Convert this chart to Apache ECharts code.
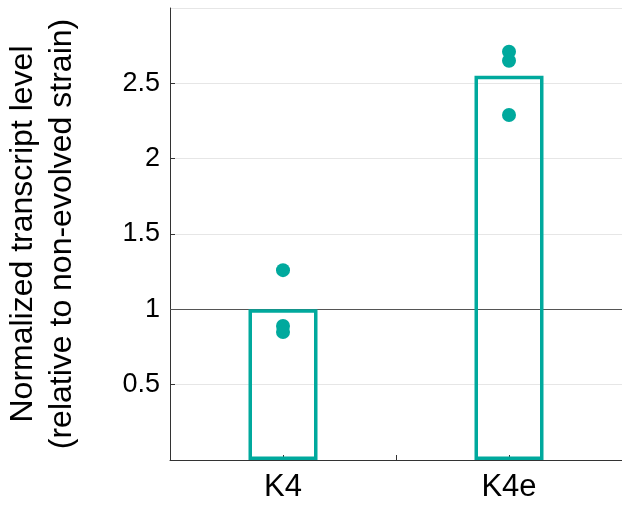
<!DOCTYPE html>
<html>
<head>
<meta charset="utf-8">
<script src="https://cdn.jsdelivr.net/npm/echarts@6/dist/echarts.min.js"></script>
<style>
html,body{margin:0;padding:0;background:#fff;}
#chart{width:622px;height:508px;}
</style>
</head>
<body>
<div id="chart"></div>
<script>
// Data
const categories = ['K4', 'K4e'];
const categoryPositions = [1, 3];
const barMeans = [1.0, 2.55];
const k4Replicates = [1.26, 0.89, 0.85];
const k4eReplicates = [2.71, 2.65, 2.29];
const yTicks = [0, 0.5, 1, 1.5, 2, 2.5, 3];
const yTitle = 'Normalized transcript level\n(relative to non-evolved strain)';

const teal = '#00A99D';
const font = '"Liberation Sans", Arial, sans-serif';

const barData = categoryPositions.map((x, i) => [x, barMeans[i]]);
const pointData = []
  .concat(k4Replicates.map(v => [categoryPositions[0], v]))
  .concat(k4eReplicates.map(v => [categoryPositions[1], v]));

const chart = echarts.init(document.getElementById('chart'), null, {renderer: 'canvas'});
chart.setOption({
  animation: false,
  backgroundColor: '#fff',
  grid: {left: 170, right: 0, top: 8, bottom: 48, containLabel: false, outerBoundsMode: 'none'},
  xAxis: {
    type: 'value',
    min: 0, max: 4, interval: 1,
    splitLine: {show: false},
    axisLine: {show: true, lineStyle: {color: '#333', width: 1}},
    axisTick: {show: true, inside: true, length: 5, customValues: [1, 2, 3], lineStyle: {color: '#333'}},
    axisLabel: {
      customValues: categoryPositions,
      formatter: v => categories[categoryPositions.indexOf(v)] || '',
      color: '#000', fontFamily: font, fontSize: 31, margin: 12
    }
  },
  yAxis: {
    type: 'value',
    min: yTicks[0], max: yTicks[yTicks.length - 1], interval: 0.5,
    name: yTitle,
    nameLocation: 'middle',
    nameRotate: 90,
    nameGap: 88,
    nameTextStyle: {color: '#000', fontFamily: font, fontSize: 32, lineHeight: 39},
    axisLine: {show: true, lineStyle: {color: '#333', width: 1}},
    axisTick: {show: true, inside: true, length: 5, lineStyle: {color: '#333'}},
    splitLine: {show: true, lineStyle: {color: '#e6e6e6', width: 1}},
    axisLabel: {
      showMinLabel: false, showMaxLabel: false,
      formatter: v => String(v),
      color: '#000', fontFamily: font, fontSize: 27, margin: 10
    }
  },
  series: [
    {
      type: 'bar',
      data: barData,
      barWidth: 69,
      itemStyle: {color: 'rgba(0,0,0,0)', borderColor: teal, borderWidth: 3.5},
      z: 3,
      markLine: {
        silent: true,
        symbol: 'none',
        label: {show: false},
        lineStyle: {color: '#555', width: 1, type: 'solid'},
        data: [{yAxis: 1}],
        z: 2
      }
    },
    {
      type: 'scatter',
      data: pointData,
      symbol: 'circle',
      symbolSize: 14,
      itemStyle: {color: teal, opacity: 1},
      z: 4
    }
  ]
});
</script>
</body>
</html>
